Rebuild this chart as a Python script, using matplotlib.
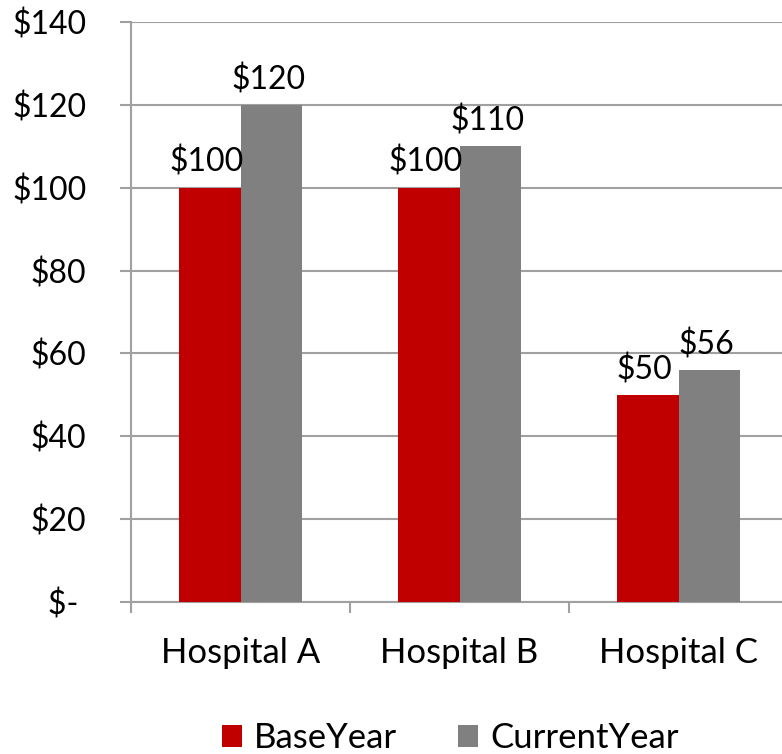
import matplotlib
matplotlib.use("Agg")
import matplotlib.pyplot as plt
import numpy as np

categories = ["Hospital A", "Hospital B", "Hospital C"]
base_year = [100, 100, 50]
current_year = [120, 110, 56]
series_names = ["BaseYear", "CurrentYear"]
yticks = [0, 20, 40, 60, 80, 100, 120, 140]
ytick_labels = ["$- ", "$20", "$40", "$60", "$80", "$100", "$120", "$140"]

plt.rcParams['font.family'] = ['Lato', 'DejaVu Sans']
FS_NUM = 23
FS_TXT = 25

fig = plt.figure(figsize=(7.82, 7.54), dpi=100)
ax = fig.add_axes([131/782, 152/754, 657/782, 580/754])

x = np.arange(len(categories))
w = 0.283
red = "#C00000"
gray = "#808080"
b1 = ax.bar(x - w/2, base_year, w, color=red, label=series_names[0], zorder=3)
b2 = ax.bar(x + w/2, current_year, w, color=gray, label=series_names[1], zorder=3)

for bars, vals in ((b1, base_year), (b2, current_year)):
    for r, v in zip(bars, vals):
        ax.annotate(f"${v}", (r.get_x() + r.get_width()/2, v), xytext=(-2, 7),
                    textcoords="offset points", ha="center", va="bottom",
                    fontsize=FS_NUM, color="black", zorder=4)

ax.set_xlim(-0.5, len(categories) - 0.5)
ax.set_ylim(0, 140)
ax.set_yticks(yticks)
ax.set_yticklabels(ytick_labels, fontsize=FS_NUM)
ax.yaxis.grid(True, color="#A0A0A0", linewidth=1.5, zorder=0)
ax.set_axisbelow(True)

ax.set_xticks(x)
ax.set_xticklabels(categories, fontsize=FS_TXT)
ax.tick_params(axis='x', length=0, pad=25)
ax.set_xticks(np.arange(len(categories) + 1) - 0.5, minor=True)
ax.tick_params(axis='x', which='minor', length=8, width=1.5, color="#A0A0A0")
ax.tick_params(axis='y', length=8, width=1.5, color="#A0A0A0", pad=24)

for s in ("top", "right"):
    ax.spines[s].set_visible(False)
for s in ("left", "bottom"):
    ax.spines[s].set_color("#A0A0A0")
    ax.spines[s].set_linewidth(1.5)

fig.legend(handles=[b1, b2], labels=series_names, loc="center",
           bbox_to_anchor=(450/782, 1 - 738/754), ncol=2, frameon=False,
           fontsize=FS_TXT, handlelength=0.58, handleheight=0.58, handletextpad=0.35,
           columnspacing=1.75)

fig.savefig("out.png", dpi=100)
